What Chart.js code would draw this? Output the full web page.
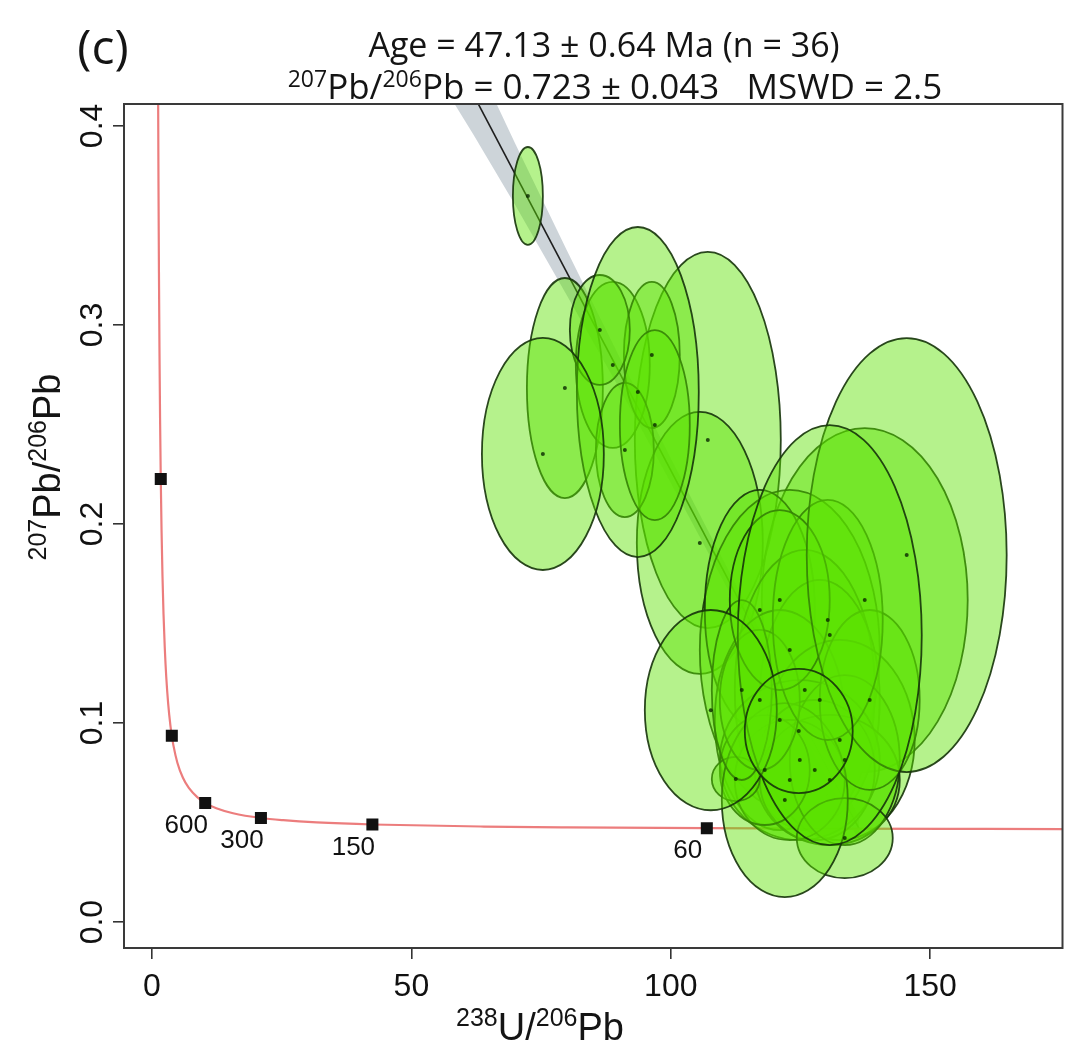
<!DOCTYPE html>
<html>
<head>
<meta charset="utf-8">
<script src="https://cdn.jsdelivr.net/npm/chart.js@4.4.1/dist/chart.umd.min.js"></script>
<style>
  html, body { margin: 0; padding: 0; background: #ffffff; }
  #wrap { width: 1071px; height: 1052px; }
</style>
</head>
<body>
<div id="wrap"><canvas id="chart" width="1071" height="1052"></canvas></div>
<script>
// ---------------- DATA ----------------
// Panel label and titles
const panelLabel = '(c)';
const titleLine1 = 'Age = 47.13 ± 0.64 Ma (n = 36)';
const titleLine2Parts = [['207', true], ['Pb/', false], ['206', true], ['Pb = 0.723 ± 0.043   MSWD = 2.5', false]];
const xTitleParts = [['238', true], ['U/', false], ['206', true], ['Pb', false]];
const yTitleParts = [['207', true], ['Pb/', false], ['206', true], ['Pb', false]];

// Axis ticks
const xTicks = [0, 50, 100, 150];
const yTicks = [0.0, 0.1, 0.2, 0.3, 0.4];

// Concordia curve (238U/206Pb, 207Pb/206Pb) at ages in Ma
const concordiaAgesMa = [4000, 3800, 3600, 3400, 3200, 3000, 2800, 2600, 2400, 2200, 2000, 1800, 1600, 1500, 1400, 1200, 1000, 850, 700, 600, 500, 400, 300, 250, 200, 150, 100, 80, 60, 50, 40, 35];
const concordiaX = [1.163, 1.245, 1.337, 1.440, 1.556, 1.687, 1.838, 2.013, 2.217, 2.459, 2.749, 3.105, 3.550, 3.817, 4.123, 4.888, 5.959, 7.095, 8.718, 10.252, 12.399, 15.621, 20.992, 25.289, 31.735, 42.478, 63.966, 80.081, 106.942, 128.428, 160.661, 183.685];
const concordiaY = [0.4250, 0.3721, 0.3264, 0.2867, 0.2524, 0.2226, 0.1968, 0.1744, 0.1548, 0.1378, 0.1230, 0.1100, 0.0987, 0.0936, 0.0888, 0.0801, 0.0725, 0.0674, 0.0628, 0.0599, 0.0572, 0.0547, 0.0523, 0.0512, 0.0501, 0.04905, 0.04801, 0.04761, 0.04721, 0.04702, 0.04682, 0.04672];

// Concordia age markers (only some carry a visible label)
const markerAgesMa = [3000, 1500, 600, 300, 150, 60];
const markerLabels = ['', '', '600', '300', '150', '60'];
const markerX = [1.687, 3.817, 10.252, 20.992, 42.478, 106.942];
const markerY = [0.2226, 0.0936, 0.0599, 0.0523, 0.04905, 0.04721];

// Discordia (isochron) line: common-Pb intercept to lower concordia intercept
const discordiaX = [0, 136.28];
const discordiaY = [0.723, 0.04696];

// Confidence envelope of the discordia
const envelopeX = [55, 62, 70, 80, 90, 100, 110, 120, 136.3];
const envelopeLower = [0.4251, 0.3954, 0.3602, 0.3147, 0.2684, 0.2206, 0.1720, 0.1226, 0.0407];
const envelopeUpper = [0.4751, 0.4354, 0.3912, 0.3373, 0.2844, 0.2330, 0.1824, 0.1326, 0.0527];

// Analyses (error ellipses): centre and semi-axes, in drawing order
const spotU238Pb206 = [107.13, 105.59, 79.58, 88.82, 96.34, 91.14, 96.92, 86.32, 93.64, 75.34,
                       137.38, 122.93, 117.15, 125.82, 128.71, 121.00, 132.56, 124.86, 127.75, 130.64,
                       122.93, 133.53, 118.11, 112.52, 133.53, 121.97, 117.15, 138.34, 113.68, 130.25,
                       121.00, 145.47, 130.64, 107.71, 124.66, 72.45];
const spotPb207Pb206 = [0.2422, 0.1905, 0.2683, 0.2799, 0.2849, 0.2372, 0.2497, 0.2975, 0.2663, 0.2352,
                        0.1618, 0.1367, 0.1568, 0.1166, 0.1116, 0.1015, 0.0915, 0.0814, 0.0764, 0.0714,
                        0.0714, 0.0814, 0.0764, 0.0719, 0.0422, 0.0613, 0.1116, 0.1116, 0.1166, 0.1518,
                        0.1618, 0.1844, 0.1442, 0.1065, 0.0960, 0.3648];
const errU238Pb206 = [14.07, 12.14, 7.32, 7.13, 5.39, 5.59, 6.74, 5.78, 11.75, 11.75,
                      19.85, 17.34, 10.60, 13.49, 11.56, 12.52, 14.45, 15.41, 11.56, 13.49,
                      10.60, 10.60, 8.67, 4.62, 9.25, 12.14, 7.71, 9.63, 5.78, 10.60,
                      9.63, 19.27, 17.73, 12.72, 10.40, 2.89];
const errPb207Pb206 = [0.0945, 0.0658, 0.0553, 0.0417, 0.0367, 0.0337, 0.0477, 0.0276, 0.0829, 0.0583,
                       0.0864, 0.0804, 0.0603, 0.0704, 0.0603, 0.0553, 0.0503, 0.0402, 0.0352, 0.0327,
                       0.0302, 0.0427, 0.0276, 0.0111, 0.0201, 0.0487, 0.0352, 0.0452, 0.0452, 0.0603,
                       0.0452, 0.1090, 0.1055, 0.0503, 0.0312, 0.0246];

// ---------------- CHART ----------------
const FONT_AXIS = "'Liberation Sans', Arial, Helvetica, sans-serif";
const FONT_TITLE = "'Open Sans', 'Noto Sans', sans-serif";

const xy = (xs, ys) => xs.map((x, i) => ({ x: x, y: ys[i] }));

const ellipseData = spotU238Pb206.map((x, i) => ({ x: x, y: spotPb207Pb206[i], sx: errU238Pb206[i], sy: errPb207Pb206[i] }));

function drawParts(ctx, parts, cx, baseline, size, supSize, supRise, family) {
  let total = 0;
  const widths = parts.map(([t, sup]) => {
    ctx.font = (sup ? supSize : size) + 'px ' + family;
    const w = ctx.measureText(t).width;
    total += w;
    return w;
  });
  let x = cx - total / 2;
  ctx.textAlign = 'left';
  ctx.textBaseline = 'alphabetic';
  parts.forEach(([t, sup], i) => {
    ctx.font = (sup ? supSize : size) + 'px ' + family;
    ctx.fillText(t, x, sup ? baseline - supRise : baseline);
    x += widths[i];
  });
}

const decorPlugin = {
  id: 'decor',
  beforeDatasetDraw(chart, args) {
    const ds = chart.data.datasets[args.index];
    if (!ds.isEllipses) return;
    const ctx = chart.ctx;
    const xs = chart.scales.x, ys = chart.scales.y;
    const area = chart.chartArea;
    ctx.save();
    ctx.beginPath();
    ctx.rect(area.left, area.top, area.right - area.left, area.bottom - area.top);
    ctx.clip();
    ds.data.forEach(d => {
      const cx = xs.getPixelForValue(d.x);
      const cy = ys.getPixelForValue(d.y);
      const rx = Math.abs(xs.getPixelForValue(d.x + d.sx) - cx);
      const ry = Math.abs(ys.getPixelForValue(d.y + d.sy) - cy);
      ctx.beginPath();
      ctx.ellipse(cx, cy, rx, ry, 0, 0, Math.PI * 2);
      ctx.fillStyle = 'rgba(90,226,0,0.45)';
      ctx.fill();
      ctx.lineWidth = 1.8;
      ctx.strokeStyle = 'rgba(22,52,10,0.9)';
      ctx.stroke();
    });
    ctx.restore();
  },
  afterDatasetsDraw(chart) {
    const ctx = chart.ctx;
    const xs = chart.scales.x, ys = chart.scales.y;
    const area = chart.chartArea;
    ctx.save();
    ctx.beginPath();
    ctx.rect(area.left, area.top, area.right - area.left, area.bottom - area.top);
    ctx.clip();
    ctx.fillStyle = '#111';
    ctx.font = '26px ' + FONT_AXIS;
    ctx.textAlign = 'center';
    ctx.textBaseline = 'middle';
    markerLabels.forEach((lab, i) => {
      if (!lab) return;
      const px = xs.getPixelForValue(markerX[i]);
      const py = ys.getPixelForValue(markerY[i]);
      ctx.fillText(lab, px - 19, py + 23);
    });
    ctx.restore();
  },
  afterDraw(chart) {
    const ctx = chart.ctx;
    const area = chart.chartArea;
    ctx.save();
    ctx.strokeStyle = '#3a3a3a';
    ctx.lineWidth = 2;
    ctx.strokeRect(area.left, area.top, area.right - area.left, area.bottom - area.top);
    ctx.restore();

    ctx.save();
    ctx.fillStyle = '#141414';
    ctx.font = '48px ' + FONT_TITLE;
    ctx.textAlign = 'center';
    ctx.textBaseline = 'alphabetic';
    ctx.fillText(panelLabel, 103, 64);
    ctx.font = '34px ' + FONT_TITLE;
    ctx.fillText(titleLine1, 604, 57);
    drawParts(ctx, titleLine2Parts, 615, 99, 35, 23, 12, FONT_TITLE);
    drawParts(ctx, xTitleParts, 540, 1040, 38, 25, 14, FONT_AXIS);
    ctx.translate(60, 467);
    ctx.rotate(-Math.PI / 2);
    drawParts(ctx, yTitleParts, 0, 0, 38, 25, 14, FONT_AXIS);
    ctx.restore();
  }
};

new Chart(document.getElementById('chart'), {
  type: 'scatter',
  data: {
    datasets: [
      {
        label: 'envelope lower',
        type: 'line',
        data: xy(envelopeX, envelopeLower),
        borderWidth: 0,
        borderColor: 'rgba(0,0,0,0)',
        pointRadius: 0,
        fill: false,
        order: 7
      },
      {
        label: 'envelope upper',
        type: 'line',
        data: xy(envelopeX, envelopeUpper),
        borderWidth: 0,
        borderColor: 'rgba(0,0,0,0)',
        backgroundColor: 'rgba(188,198,204,0.75)',
        pointRadius: 0,
        fill: '-1',
        order: 6
      },
      {
        label: 'discordia',
        type: 'line',
        data: xy(discordiaX, discordiaY),
        borderColor: '#1e1e1e',
        borderWidth: 1.6,
        pointRadius: 0,
        fill: false,
        order: 5
      },
      {
        label: 'concordia',
        type: 'line',
        data: xy(concordiaX, concordiaY),
        borderColor: 'rgb(236,125,125)',
        borderWidth: 2.2,
        pointRadius: 0,
        cubicInterpolationMode: 'monotone',
        fill: false,
        order: 4
      },
      {
        label: 'concordia ages',
        data: xy(markerX, markerY),
        pointStyle: 'rect',
        pointRadius: 8.5,
        backgroundColor: '#111',
        borderColor: '#111',
        borderWidth: 0,
        order: 3
      },
      {
        label: 'analyses',
        isEllipses: true,
        data: ellipseData,
        pointRadius: 2,
        backgroundColor: 'rgba(10,40,0,0.8)',
        borderWidth: 0,
        order: 1
      }
    ]
  },
  options: {
    responsive: false,
    devicePixelRatio: 1,
    animation: false,
    layout: { padding: { top: 104, right: 8, bottom: 0, left: 0 } },
    plugins: {
      legend: { display: false },
      tooltip: { enabled: false },
      title: { display: false }
    },
    scales: {
      x: {
        type: 'linear',
        min: -5.4,
        max: 175.5,
        afterBuildTicks: s => { s.ticks = xTicks.map(v => ({ value: v })); },
        afterFit: s => { s.height = 104; },
        ticks: {
          color: '#111',
          font: { family: FONT_AXIS, size: 32 },
          padding: 9,
          maxRotation: 0,
          minRotation: 0,
          callback: v => String(v)
        },
        grid: { display: true, drawOnChartArea: false, drawTicks: true, tickLength: 11, color: '#333', lineWidth: 1.6 },
        border: { display: false }
      },
      y: {
        type: 'linear',
        min: -0.013,
        max: 0.411,
        afterBuildTicks: s => { s.ticks = yTicks.map(v => ({ value: v })); },
        afterFit: s => { s.width = 124; },
        ticks: {
          color: '#111',
          font: { family: FONT_AXIS, size: 32 },
          padding: -2,
          minRotation: 90,
          maxRotation: 90,
          crossAlign: 'center',
          callback: v => Number(v).toFixed(1)
        },
        grid: { display: true, drawOnChartArea: false, drawTicks: true, tickLength: 11, color: '#333', lineWidth: 1.6 },
        border: { display: false }
      }
    }
  },
  plugins: [decorPlugin]
});
</script>
</body>
</html>
